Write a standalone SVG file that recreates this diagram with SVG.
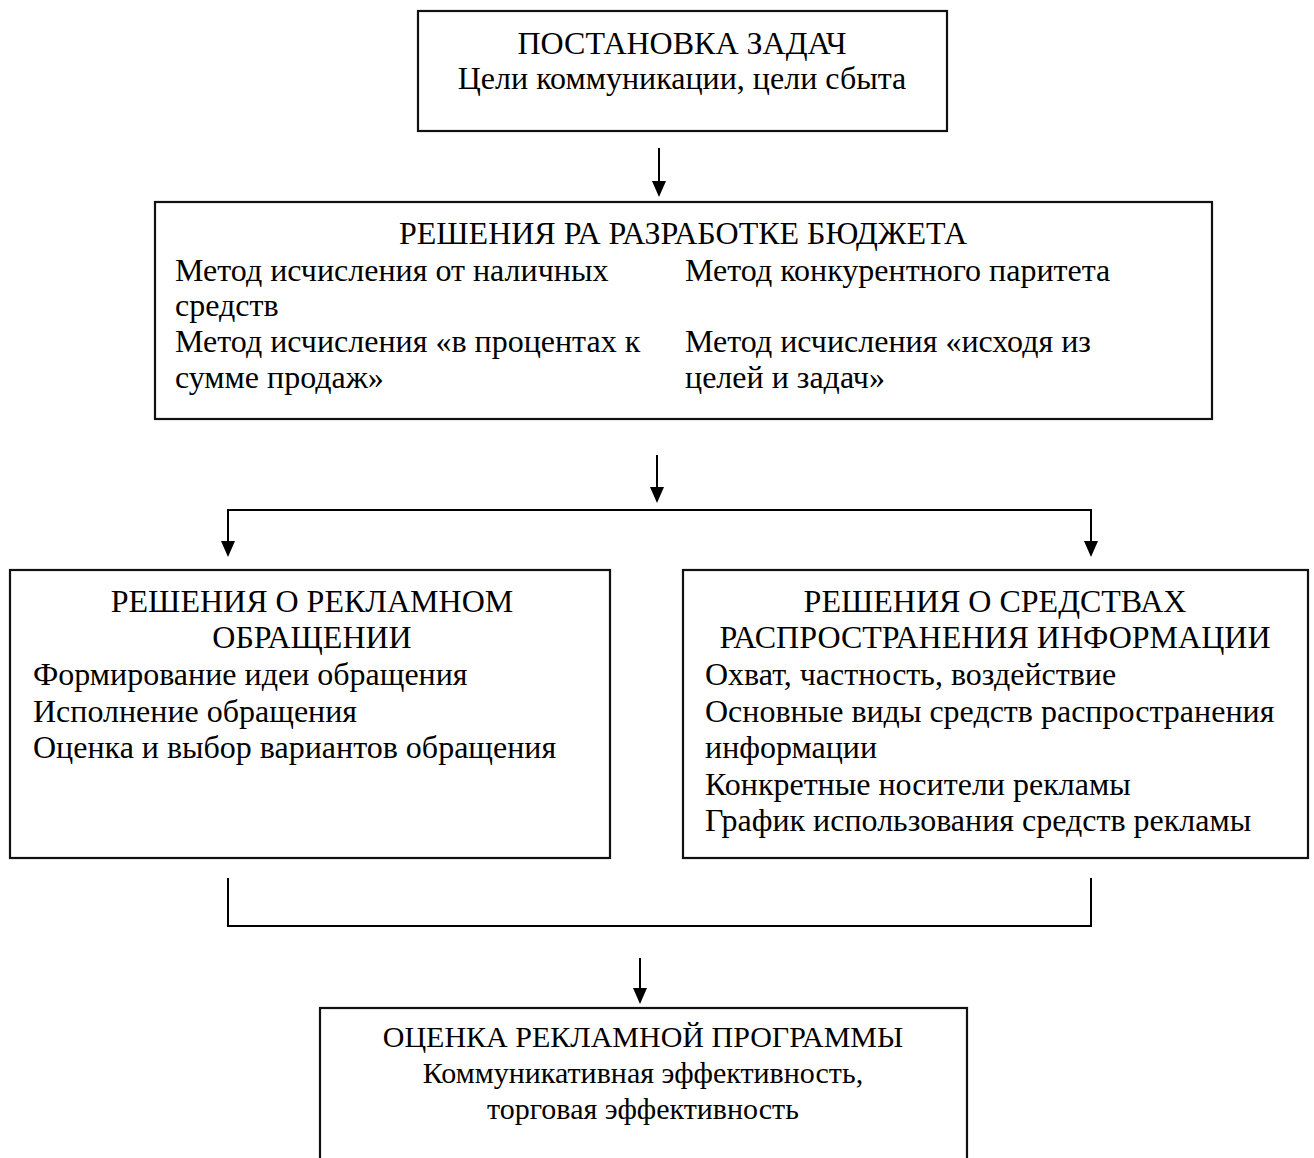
<svg xmlns="http://www.w3.org/2000/svg" width="1314" height="1158" viewBox="0 0 1314 1158">
<defs>
<style>
.box{fill:#fff;stroke:#111;stroke-width:2.2}
.t{font-family:"Liberation Serif","Times New Roman",serif;font-size:32px;fill:#000}
.s{font-size:30px}
.c{text-anchor:middle}
.ln{stroke:#000;stroke-width:2;fill:none}
.ah{fill:#000}
</style>
</defs>
<rect width="1314" height="1158" fill="#fff"/>
<g id="connectors">
<line class="ln" x1="659" y1="148" x2="659" y2="182"/>
<path class="ah" d="M652,181 L666,181 L659,197 Z"/>
<line class="ln" x1="657" y1="455" x2="657" y2="488"/>
<path class="ah" d="M650,487 L664,487 L657,503 Z"/>
<polyline class="ln" points="228,542 228,510 1091,510 1091,542"/>
<path class="ah" d="M221,541 L235,541 L228,557 Z"/>
<path class="ah" d="M1084,541 L1098,541 L1091,557 Z"/>
<polyline class="ln" points="228,878 228,926 1091,926 1091,878"/>
<line class="ln" x1="640" y1="958" x2="640" y2="989"/>
<path class="ah" d="M633,988 L647,988 L640,1004 Z"/>
</g>
<g id="n1">
<rect class="box" x="418" y="11" width="529" height="120"/>
<text class="t c" x="682" y="54">ПОСТАНОВКА ЗАДАЧ</text>
<text class="t c" x="682" y="89">Цели коммуникации, цели сбыта</text>
</g>
<g id="n2">
<rect class="box" x="155" y="202" width="1057" height="217"/>
<text class="t c" x="683" y="244">РЕШЕНИЯ РА РАЗРАБОТКЕ БЮДЖЕТА</text>
<text class="t" x="175" y="281">Метод исчисления от наличных</text>
<text class="t" x="175" y="316">средств</text>
<text class="t" x="175" y="352">Метод исчисления «в процентах к</text>
<text class="t" x="175" y="388">сумме продаж»</text>
<text class="t" x="685" y="281">Метод конкурентного паритета</text>
<text class="t" x="685" y="352">Метод исчисления «исходя из</text>
<text class="t" x="685" y="388">целей и задач»</text>
</g>
<g id="n3">
<rect class="box" x="10" y="570" width="600" height="288"/>
<text class="t c" x="312" y="612">РЕШЕНИЯ О РЕКЛАМНОМ</text>
<text class="t c" x="312" y="648">ОБРАЩЕНИИ</text>
<text class="t" x="33" y="685">Формирование идеи обращения</text>
<text class="t" x="33" y="722">Исполнение обращения</text>
<text class="t" x="33" y="758">Оценка и выбор вариантов обращения</text>
</g>
<g id="n4">
<rect class="box" x="683" y="570" width="625" height="288"/>
<text class="t c" x="995" y="612">РЕШЕНИЯ О СРЕДСТВАХ</text>
<text class="t c" x="995" y="648">РАСПРОСТРАНЕНИЯ ИНФОРМАЦИИ</text>
<text class="t" x="705" y="685">Охват, частность, воздействие</text>
<text class="t" x="705" y="722">Основные виды средств распространения</text>
<text class="t" x="705" y="758">информации</text>
<text class="t" x="705" y="795">Конкретные носители рекламы</text>
<text class="t" x="705" y="831">График использования средств рекламы</text>
</g>
<g id="n5">
<rect class="box" x="320" y="1008" width="647" height="200"/>
<text class="t s c" x="643" y="1047">ОЦЕНКА РЕКЛАМНОЙ ПРОГРАММЫ</text>
<text class="t s c" x="643" y="1083">Коммуникативная эффективность,</text>
<text class="t s c" x="643" y="1119">торговая эффективность</text>
</g>
</svg>
